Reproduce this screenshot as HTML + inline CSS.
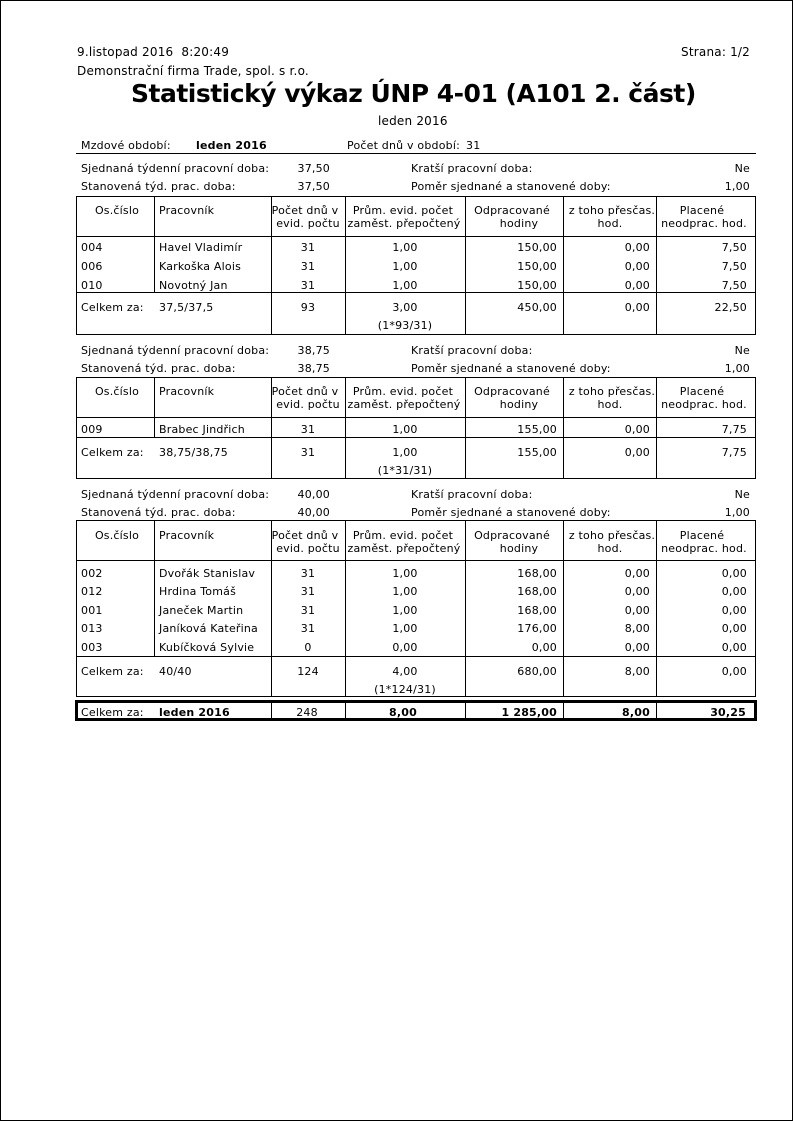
<!DOCTYPE html>
<html>
<head>
<meta charset="utf-8">
<style>
html,body{margin:0;padding:0;background:#fff;}
body{position:relative;width:794px;height:1122px;overflow:hidden;color:#000;}
.pg{position:absolute;left:0;top:0;width:793px;height:1121px;border:1px solid #000;box-sizing:border-box;}
.t{position:absolute;font-family:"DejaVu Sans","Liberation Sans",sans-serif;font-size:11px;line-height:13px;letter-spacing:0.2px;white-space:nowrap;}
.b{font-weight:bold;}
.c{width:120px;text-align:center;}
.r{text-align:right;}
.h{position:absolute;height:1px;background:#000;}
.v{position:absolute;width:1px;background:#000;}
.big{font-size:12px;line-height:14px;}
</style>
</head>
<body>
<div class="pg"></div>

<!-- header -->
<div class="t big" style="left:77px;top:45px">9.listopad 2016&nbsp;&nbsp;8:20:49</div>
<div class="t big r" style="right:44px;top:45px">Strana: 1/2</div>
<div class="t big" style="left:77px;top:64px">Demonstrační firma Trade, spol. s r.o.</div>
<div class="t b" style="left:131px;top:79px;font-size:25px;line-height:30px;letter-spacing:-0.5px">Statistický výkaz ÚNP 4-01 (A101 2. část)</div>
<div class="t big" style="left:378px;top:114px">leden 2016</div>

<div class="t" style="left:81px;top:139px">Mzdové období:</div>
<div class="t b" style="left:196px;top:139px">leden 2016</div>
<div class="t" style="left:347px;top:139px">Počet dnů v období:</div>
<div class="t" style="left:466px;top:139px">31</div>
<div class="h" style="left:76px;top:153px;width:680px"></div>

<!-- ===== TABLE 1 ===== -->
<div class="t" style="left:81px;top:162px">Sjednaná týdenní pracovní doba:</div>
<div class="t r" style="right:464px;top:162px">37,50</div>
<div class="t" style="left:411px;top:162px">Kratší pracovní doba:</div>
<div class="t r" style="right:44px;top:162px">Ne</div>
<div class="t" style="left:81px;top:180px">Stanovená týd. prac. doba:</div>
<div class="t r" style="right:464px;top:180px">37,50</div>
<div class="t" style="left:411px;top:180px">Poměr sjednané a stanovené doby:</div>
<div class="t r" style="right:44px;top:180px">1,00</div>

<div class="h" style="left:76px;top:196px;width:680px"></div>
<div class="h" style="left:76px;top:236px;width:680px"></div>
<div class="h" style="left:76px;top:292px;width:680px"></div>
<div class="h" style="left:76px;top:334px;width:680px"></div>
<div class="v" style="left:76px;top:196px;height:139px"></div>
<div class="v" style="left:154px;top:196px;height:97px"></div>
<div class="v" style="left:271px;top:196px;height:139px"></div>
<div class="v" style="left:345px;top:196px;height:139px"></div>
<div class="v" style="left:465px;top:196px;height:139px"></div>
<div class="v" style="left:563px;top:196px;height:139px"></div>
<div class="v" style="left:656px;top:196px;height:139px"></div>
<div class="v" style="left:755px;top:196px;height:139px"></div>

<div class="t c" style="left:57px;top:204px">Os.číslo</div>
<div class="t" style="left:159px;top:204px">Pracovník</div>
<div class="t c" style="left:245px;top:204px">Počet dnů v</div>
<div class="t c" style="left:248px;top:217px">evid. počtu</div>
<div class="t c" style="left:343px;top:204px">Prům. evid. počet</div>
<div class="t c" style="left:344px;top:217px">zaměst. přepočtený</div>
<div class="t c" style="left:452px;top:204px">Odpracované</div>
<div class="t c" style="left:459px;top:217px">hodiny</div>
<div class="t c" style="left:552px;top:204px">z toho přesčas.</div>
<div class="t c" style="left:550px;top:217px">hod.</div>
<div class="t c" style="left:642px;top:204px">Placené</div>
<div class="t c" style="left:644px;top:217px">neodprac. hod.</div>

<div class="t" style="left:81px;top:241px">004</div>
<div class="t" style="left:159px;top:241px">Havel Vladimír</div>
<div class="t c" style="left:248px;top:241px">31</div>
<div class="t c" style="left:345px;top:241px">1,00</div>
<div class="t r" style="right:237px;top:241px">150,00</div>
<div class="t r" style="right:144px;top:241px">0,00</div>
<div class="t r" style="right:47px;top:241px">7,50</div>

<div class="t" style="left:81px;top:260px">006</div>
<div class="t" style="left:159px;top:260px">Karkoška Alois</div>
<div class="t c" style="left:248px;top:260px">31</div>
<div class="t c" style="left:345px;top:260px">1,00</div>
<div class="t r" style="right:237px;top:260px">150,00</div>
<div class="t r" style="right:144px;top:260px">0,00</div>
<div class="t r" style="right:47px;top:260px">7,50</div>

<div class="t" style="left:81px;top:279px">010</div>
<div class="t" style="left:159px;top:279px">Novotný Jan</div>
<div class="t c" style="left:248px;top:279px">31</div>
<div class="t c" style="left:345px;top:279px">1,00</div>
<div class="t r" style="right:237px;top:279px">150,00</div>
<div class="t r" style="right:144px;top:279px">0,00</div>
<div class="t r" style="right:47px;top:279px">7,50</div>

<div class="t" style="left:81px;top:301px">Celkem za:</div>
<div class="t" style="left:159px;top:301px">37,5/37,5</div>
<div class="t c" style="left:248px;top:301px">93</div>
<div class="t c" style="left:345px;top:301px">3,00</div>
<div class="t r" style="right:237px;top:301px">450,00</div>
<div class="t r" style="right:144px;top:301px">0,00</div>
<div class="t r" style="right:47px;top:301px">22,50</div>
<div class="t c" style="left:345px;top:319px">(1*93/31)</div>

<!-- ===== TABLE 2 ===== -->
<div class="t" style="left:81px;top:344px">Sjednaná týdenní pracovní doba:</div>
<div class="t r" style="right:464px;top:344px">38,75</div>
<div class="t" style="left:411px;top:344px">Kratší pracovní doba:</div>
<div class="t r" style="right:44px;top:344px">Ne</div>
<div class="t" style="left:81px;top:362px">Stanovená týd. prac. doba:</div>
<div class="t r" style="right:464px;top:362px">38,75</div>
<div class="t" style="left:411px;top:362px">Poměr sjednané a stanovené doby:</div>
<div class="t r" style="right:44px;top:362px">1,00</div>

<div class="h" style="left:76px;top:377px;width:680px"></div>
<div class="h" style="left:76px;top:417px;width:680px"></div>
<div class="h" style="left:76px;top:437px;width:680px"></div>
<div class="h" style="left:76px;top:478px;width:680px"></div>
<div class="v" style="left:76px;top:377px;height:102px"></div>
<div class="v" style="left:154px;top:377px;height:60px"></div>
<div class="v" style="left:271px;top:377px;height:102px"></div>
<div class="v" style="left:345px;top:377px;height:102px"></div>
<div class="v" style="left:465px;top:377px;height:102px"></div>
<div class="v" style="left:563px;top:377px;height:102px"></div>
<div class="v" style="left:656px;top:377px;height:102px"></div>
<div class="v" style="left:755px;top:377px;height:102px"></div>

<div class="t c" style="left:57px;top:385px">Os.číslo</div>
<div class="t" style="left:159px;top:385px">Pracovník</div>
<div class="t c" style="left:245px;top:385px">Počet dnů v</div>
<div class="t c" style="left:248px;top:398px">evid. počtu</div>
<div class="t c" style="left:343px;top:385px">Prům. evid. počet</div>
<div class="t c" style="left:344px;top:398px">zaměst. přepočtený</div>
<div class="t c" style="left:452px;top:385px">Odpracované</div>
<div class="t c" style="left:459px;top:398px">hodiny</div>
<div class="t c" style="left:552px;top:385px">z toho přesčas.</div>
<div class="t c" style="left:550px;top:398px">hod.</div>
<div class="t c" style="left:642px;top:385px">Placené</div>
<div class="t c" style="left:644px;top:398px">neodprac. hod.</div>

<div class="t" style="left:81px;top:423px">009</div>
<div class="t" style="left:159px;top:423px">Brabec Jindřich</div>
<div class="t c" style="left:248px;top:423px">31</div>
<div class="t c" style="left:345px;top:423px">1,00</div>
<div class="t r" style="right:237px;top:423px">155,00</div>
<div class="t r" style="right:144px;top:423px">0,00</div>
<div class="t r" style="right:47px;top:423px">7,75</div>

<div class="t" style="left:81px;top:446px">Celkem za:</div>
<div class="t" style="left:159px;top:446px">38,75/38,75</div>
<div class="t c" style="left:248px;top:446px">31</div>
<div class="t c" style="left:345px;top:446px">1,00</div>
<div class="t r" style="right:237px;top:446px">155,00</div>
<div class="t r" style="right:144px;top:446px">0,00</div>
<div class="t r" style="right:47px;top:446px">7,75</div>
<div class="t c" style="left:345px;top:464px">(1*31/31)</div>

<!-- ===== TABLE 3 ===== -->
<div class="t" style="left:81px;top:488px">Sjednaná týdenní pracovní doba:</div>
<div class="t r" style="right:464px;top:488px">40,00</div>
<div class="t" style="left:411px;top:488px">Kratší pracovní doba:</div>
<div class="t r" style="right:44px;top:488px">Ne</div>
<div class="t" style="left:81px;top:506px">Stanovená týd. prac. doba:</div>
<div class="t r" style="right:464px;top:506px">40,00</div>
<div class="t" style="left:411px;top:506px">Poměr sjednané a stanovené doby:</div>
<div class="t r" style="right:44px;top:506px">1,00</div>

<div class="h" style="left:76px;top:520px;width:680px"></div>
<div class="h" style="left:76px;top:560px;width:680px"></div>
<div class="h" style="left:76px;top:656px;width:680px"></div>
<div class="h" style="left:76px;top:696px;width:680px"></div>
<div class="v" style="left:76px;top:520px;height:177px"></div>
<div class="v" style="left:154px;top:520px;height:136px"></div>
<div class="v" style="left:271px;top:520px;height:177px"></div>
<div class="v" style="left:345px;top:520px;height:177px"></div>
<div class="v" style="left:465px;top:520px;height:177px"></div>
<div class="v" style="left:563px;top:520px;height:177px"></div>
<div class="v" style="left:656px;top:520px;height:177px"></div>
<div class="v" style="left:755px;top:520px;height:177px"></div>

<div class="t c" style="left:57px;top:529px">Os.číslo</div>
<div class="t" style="left:159px;top:529px">Pracovník</div>
<div class="t c" style="left:245px;top:529px">Počet dnů v</div>
<div class="t c" style="left:248px;top:542px">evid. počtu</div>
<div class="t c" style="left:343px;top:529px">Prům. evid. počet</div>
<div class="t c" style="left:344px;top:542px">zaměst. přepočtený</div>
<div class="t c" style="left:452px;top:529px">Odpracované</div>
<div class="t c" style="left:459px;top:542px">hodiny</div>
<div class="t c" style="left:552px;top:529px">z toho přesčas.</div>
<div class="t c" style="left:550px;top:542px">hod.</div>
<div class="t c" style="left:642px;top:529px">Placené</div>
<div class="t c" style="left:644px;top:542px">neodprac. hod.</div>

<div class="t" style="left:81px;top:567px">002</div>
<div class="t" style="left:159px;top:567px">Dvořák Stanislav</div>
<div class="t c" style="left:248px;top:567px">31</div>
<div class="t c" style="left:345px;top:567px">1,00</div>
<div class="t r" style="right:237px;top:567px">168,00</div>
<div class="t r" style="right:144px;top:567px">0,00</div>
<div class="t r" style="right:47px;top:567px">0,00</div>

<div class="t" style="left:81px;top:585px">012</div>
<div class="t" style="left:159px;top:585px">Hrdina Tomáš</div>
<div class="t c" style="left:248px;top:585px">31</div>
<div class="t c" style="left:345px;top:585px">1,00</div>
<div class="t r" style="right:237px;top:585px">168,00</div>
<div class="t r" style="right:144px;top:585px">0,00</div>
<div class="t r" style="right:47px;top:585px">0,00</div>

<div class="t" style="left:81px;top:604px">001</div>
<div class="t" style="left:159px;top:604px">Janeček Martin</div>
<div class="t c" style="left:248px;top:604px">31</div>
<div class="t c" style="left:345px;top:604px">1,00</div>
<div class="t r" style="right:237px;top:604px">168,00</div>
<div class="t r" style="right:144px;top:604px">0,00</div>
<div class="t r" style="right:47px;top:604px">0,00</div>

<div class="t" style="left:81px;top:622px">013</div>
<div class="t" style="left:159px;top:622px">Janíková Kateřina</div>
<div class="t c" style="left:248px;top:622px">31</div>
<div class="t c" style="left:345px;top:622px">1,00</div>
<div class="t r" style="right:237px;top:622px">176,00</div>
<div class="t r" style="right:144px;top:622px">8,00</div>
<div class="t r" style="right:47px;top:622px">0,00</div>

<div class="t" style="left:81px;top:641px">003</div>
<div class="t" style="left:159px;top:641px">Kubíčková Sylvie</div>
<div class="t c" style="left:248px;top:641px">0</div>
<div class="t c" style="left:345px;top:641px">0,00</div>
<div class="t r" style="right:237px;top:641px">0,00</div>
<div class="t r" style="right:144px;top:641px">0,00</div>
<div class="t r" style="right:47px;top:641px">0,00</div>

<div class="t" style="left:81px;top:665px">Celkem za:</div>
<div class="t" style="left:159px;top:665px">40/40</div>
<div class="t c" style="left:248px;top:665px">124</div>
<div class="t c" style="left:345px;top:665px">4,00</div>
<div class="t r" style="right:237px;top:665px">680,00</div>
<div class="t r" style="right:144px;top:665px">8,00</div>
<div class="t r" style="right:47px;top:665px">0,00</div>
<div class="t c" style="left:345px;top:683px">(1*124/31)</div>

<!-- ===== GRAND TOTAL ===== -->
<div style="position:absolute;left:75px;top:700px;width:682px;height:21px;border:3px solid #000;box-sizing:border-box;"></div>
<div class="v" style="left:271px;top:703px;height:15px"></div>
<div class="v" style="left:345px;top:703px;height:15px"></div>
<div class="v" style="left:465px;top:703px;height:15px"></div>
<div class="v" style="left:563px;top:703px;height:15px"></div>
<div class="v" style="left:656px;top:703px;height:15px"></div>

<div class="t" style="left:81px;top:706px">Celkem za:</div>
<div class="t b" style="left:159px;top:706px">leden 2016</div>
<div class="t c" style="left:247px;top:706px">248</div>
<div class="t c b" style="left:343px;top:706px">8,00</div>
<div class="t r b" style="right:237px;top:706px">1 285,00</div>
<div class="t r b" style="right:144px;top:706px">8,00</div>
<div class="t r b" style="right:48px;top:706px">30,25</div>

</body>
</html>
